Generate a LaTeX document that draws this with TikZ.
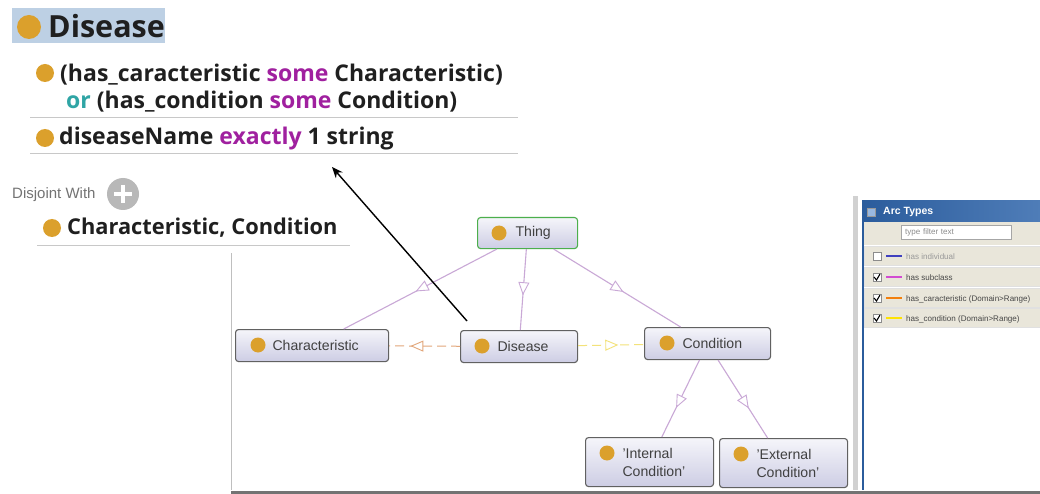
\documentclass[tikz,border=0pt]{standalone}
\usepackage{fontspec}
\setmainfont{Liberation Sans}
\newfontfamily\boldface{Open Sans}[BoldFont={Open Sans Bold}]
\usetikzlibrary{arrows.meta,decorations.markings,calc}
\definecolor{ballc}{HTML}{DBA02C}
\definecolor{kw}{HTML}{A0209F}
\definecolor{orkw}{HTML}{2FA5A5}
\definecolor{sub}{HTML}{C9A8D6}
\definecolor{car}{HTML}{E2A67A}
\definecolor{cond}{HTML}{F3E27A}
\definecolor{rulec}{HTML}{C8C8C8}
\definecolor{beige}{HTML}{E9E6DA}
\definecolor{boxtop}{HTML}{F5F5FA}
\definecolor{boxbot}{HTML}{CDCDE4}
\definecolor{hilite}{HTML}{BDD0E4}
\definecolor{barl}{HTML}{2B5C9C}
\definecolor{barr}{HTML}{4F7DB8}
\tikzset{
  x=1pt,y=-1pt,
  box/.style={draw=#1,line width=1.1pt,rounded corners=3pt,top color=boxtop,bottom color=boxbot,
    anchor=north west,inner sep=0pt,align=left,font=\fontsize{14.1}{18}\selectfont,text=black!75},
  box/.default={black!62},
  ball/.style={circle,fill=ballc,minimum size=#1,inner sep=0pt},
  ball/.default=15pt,
  onto/.style={postaction={decorate,decoration={markings,mark=at position #1 with {\arrow[solid,line width=.9pt]{Triangle[open,fill=white,length=13pt,width=11pt]}}}}},
  subline/.style={draw=sub,line width=1.1pt},
  heading/.style={anchor=base west,inner sep=0pt,font=\boldface\bfseries\fontsize{#1}{#1}\selectfont,text=black!88},
  sep/.style={draw=rulec,line width=1pt},
  rowbox/.style={fill=beige,draw=black!12,minimum width=176pt,minimum height=19pt,inner sep=0pt,anchor=north west},
  rowtext/.style={anchor=west,inner sep=0pt,font=\fontsize{8.05}{10}\selectfont,text=black!72},
  check/.style={draw=black!45,fill=white,minimum size=8.5pt,inner sep=0pt},
  swatch/.style={line width=1.2pt},
}
\begin{document}
\begin{tikzpicture}
\useasboundingbox (0,0) rectangle (1040,494);
\fill[white] (0,0) rectangle (1040,494);
% top-left description panel
\node[fill=hilite,minimum width=153pt,minimum height=35pt,anchor=north west,inner sep=0pt] (hl) at (12,8) {};
\node[ball=24pt] (b0) at (29,27) {};
\node[heading=30.5] (title) at (48,38) {Disease};
\node[ball=18pt] (b1) at (45,73) {};
\node[heading=23] (l1) at (60,82) {(has\_caracteristic \textcolor{kw}{some} Characteristic)};
\node[heading=23] (l2) at (66,109) {\textcolor{orkw}{or} (has\_condition \textcolor{kw}{some} Condition)};
\draw[sep] (30,118) -- (518,118);
\node[ball=18pt] (b2) at (45,138) {};
\node[heading=23] (l3) at (59,145) {diseaseName \textcolor{kw}{exactly} 1 string};
\draw[sep] (30,154) -- (518,154);
\node[anchor=base west,inner sep=0pt,text=black!55,font=\fontsize{15}{15}\selectfont] (dw) at (12,199) {Disjoint With};
\node[circle,fill=black!28,minimum size=32pt,inner sep=0pt] (plus) at (123,194) {};
\draw[white,line width=3.5pt] (114,194) -- (132,194) (123,185) -- (123,203);
\node[ball=18pt] (b3) at (52,228) {};
\node[heading=21.8] (l4) at (67,235) {Characteristic, Condition};
\draw[sep] (37,245) -- (350,245);
% graph frame
\draw[black!25,line width=1pt] (231,253) -- (231,490);
\draw[black!55,line width=3pt] (231,492) -- (1040,492);
% graph nodes
\node[box=green!55!black!70,minimum height=31pt,text width=100pt] (thing) at (477,217) {\hspace*{38pt}Thing};
\node[box,minimum height=32pt,text width=153pt] (charac) at (235,329) {\hspace*{37pt}Characteristic};
\node[box,minimum height=32pt,text width=117pt] (dis) at (460,330) {\hspace*{37pt}Disease};
\node[box,minimum height=32pt,text width=126pt] (con) at (644,327) {\hspace*{38pt}Condition};
\node[box,minimum height=49pt,text width=128pt] (int) at (585,437) {\hspace*{37pt}'Internal\\\hspace*{37pt}Condition'};
\node[box,minimum height=49pt,text width=128pt] (ext) at (719,438) {\hspace*{37pt}'External\\\hspace*{37pt}Condition'};
\node[ball] (bthing) at (499,233) {};
\node[ball] (bchar) at (258,345) {};
\node[ball] (bdis) at (482,346) {};
\node[ball] (bcon) at (667,343) {};
\node[ball] (bint) at (607,453) {};
\node[ball] (bext) at (741,454) {};
% edges
\path[subline,onto=.53] (thing) -- (charac);
\path[subline,onto=.57] (thing) -- (dis);
\path[subline,onto=.55] (thing) -- (con);
\path[subline,onto=.62] (con) -- (int);
\path[subline,onto=.62] (con) -- (ext);
\path[draw=car,line width=1pt,dash pattern=on 9pt off 5pt,onto=.7] (dis) -- (charac);
\path[draw=cond,line width=1pt,dash pattern=on 9pt off 5pt,onto=.61] (dis) -- (con);
% pointer
\coordinate (pstart) at (467,321);
\coordinate (pend) at (332,167);
\draw[black,line width=1.4pt,-{Stealth[length=11pt,width=9pt]}] (pstart) -- (pend);
% arc types panel
\fill[black!18] (853,196) rectangle (858,490);
\fill[barl] (862,200) rectangle (864,490);
\node[anchor=north west,inner sep=0pt,minimum width=176pt,minimum height=45pt,fill=beige] (bar) at (864,200) {};
\node[anchor=north west,inner sep=0pt,minimum width=178pt,minimum height=21pt,left color=barl,right color=barr] (titlebar) at (862,200) {};
\node[draw=black!40,fill=green!30!blue!40,minimum size=8pt,inner sep=0pt] (icon) at (871,212) {};
\node[anchor=west,inner sep=0pt,text=white,font=\bfseries\fontsize{10.5}{12}\selectfont] (at) at (883,212) {Arc Types};
\node[draw=black!35,fill=white,minimum width=110pt,minimum height=14pt,inner sep=0pt,anchor=north west,text=black!45,font=\fontsize{8.05}{10}\selectfont,text width=102pt,align=left] (filter) at (901,225) {type filter text};
\node[rowbox] (r1) at (864,246) {};
\node[rowbox] (r2) at (864,267) {};
\node[rowbox] (r3) at (864,288) {};
\node[rowbox] (r4) at (864,308) {};
\node[check] (c1) at (877,256) {};
\node[check] (c2) at (877,277) {};
\node[check] (c3) at (877,298) {};
\node[check] (c4) at (877,318) {};
\draw[black,line width=1.1pt] (874,277) -- (876.5,280) -- (880,274);
\draw[black,line width=1.1pt] (874,298) -- (876.5,301) -- (880,295);
\draw[black,line width=1.1pt] (874,318) -- (876.5,321) -- (880,315);
\draw[swatch,blue!50!gray] (886,256) -- (902,256);
\draw[swatch,violet!50!magenta!70] (886,277) -- (902,277);
\draw[swatch,orange!80!brown] (886,298) -- (902,298);
\draw[swatch,yellow!85!orange] (886,318) -- (902,318);
\node[rowtext,text=black!40] (t1) at (906,257) {has individual};
\node[rowtext] (t2) at (906,278) {has subclass};
\node[rowtext] (t3) at (906,299) {has\_caracteristic (Domain>Range)};
\node[rowtext] (t4) at (906,319) {has\_condition (Domain>Range)};
\end{tikzpicture}
\end{document}
